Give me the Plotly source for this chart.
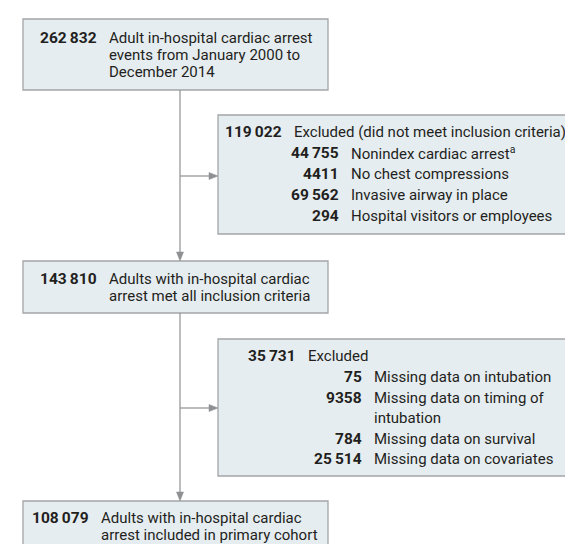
import plotly.graph_objects as go

# ---- data ----
main_counts = [262832, 143810, 108079]
main_labels = [
    ["Adult in-hospital cardiac arrest", "events from January 2000 to", "December 2014"],
    ["Adults with in-hospital cardiac", "arrest met all inclusion criteria"],
    ["Adults with in-hospital cardiac", "arrest included in primary cohort"],
]
excl1_total = 119022
excl1_title = "Excluded (did not meet inclusion criteria)"
excl1_counts = [44755, 4411, 69562, 294]
excl1_labels = [["Nonindex cardiac arrest<sup>a</sup>"], ["No chest compressions"],
                ["Invasive airway in place"], ["Hospital visitors or employees"]]
excl2_total = 35731
excl2_title = "Excluded"
excl2_counts = [75, 9358, 784, 25514]
excl2_labels = [["Missing data on intubation"], ["Missing data on timing of", "intubation"],
                ["Missing data on survival"], ["Missing data on covariates"]]


def fmt(n):
    s = f"{n:,}"
    if n >= 10000:
        return s.replace(",", "\u2009")
    return s.replace(",", "")


W, H = 573, 544
FILL = "#e6edf1"
BORDER = "#a3a5a7"
LINE = "#8e9092"
TXT = "#231f20"
FONT = "Roboto, 'Liberation Sans', sans-serif"
FS_NUM = 15.5
FS_TXT = 15

fig = go.Figure()
shapes = []
ann = []


def box(x0, x1, y0, y1):
    shapes.append(dict(type="rect", xref="x", yref="y", x0=x0, x1=x1, y0=y0, y1=y1,
                       fillcolor=FILL, line=dict(color=BORDER, width=1.3), layer="below"))


def num(x, y, n):
    ann.append(dict(x=x, y=y, xref="x", yref="y", text=f"<b>{fmt(n)}</b>", showarrow=False,
                    xanchor="right", yanchor="middle", font=dict(family=FONT, size=FS_NUM, color=TXT)))


def txt(x, y, t):
    ann.append(dict(x=x, y=y, xref="x", yref="y", text=t, showarrow=False,
                    xanchor="left", yanchor="middle", font=dict(family=FONT, size=FS_TXT, color=TXT)))


def line(x0, y0, x1, y1):
    shapes.append(dict(type="line", xref="x", yref="y", x0=x0, y0=y0, x1=x1, y1=y1,
                       line=dict(color=LINE, width=1.2)))


def head_down(x, y):
    shapes.append(dict(type="path", xref="x", yref="y",
                       path=f"M{x-3.5},{y-9} L{x+3.5},{y-9} L{x},{y} Z",
                       fillcolor=LINE, line=dict(color=LINE, width=0.5)))


def head_right(x, y):
    shapes.append(dict(type="path", xref="x", yref="y",
                       path=f"M{x-9},{y-3.5} L{x-9},{y+3.5} L{x},{y} Z",
                       fillcolor=LINE, line=dict(color=LINE, width=0.5)))


TRUNK = 172
# main boxes
main_boxes = [(15, 320, 11, 82), (15, 320, 253, 305), (15, 320, 493, 560)]
main_numx = [91, 91, 83]
main_rows = [[30, 47, 64], [271, 288], [510, 527]]
for (x0, x1, y0, y1), nx, rows, n, lab in zip(main_boxes, main_numx, main_rows, main_counts, main_labels):
    box(x0, x1, y0, y1)
    num(nx, rows[0], n)
    for r, t in zip(rows, lab):
        txt(nx + 8, r, t)

# exclusion box 1
box(210, 580, 107, 226)
num(276, 124, excl1_total)
txt(284, 124, excl1_title)
rows1 = [145, 166, 187, 208]
for r, n, lab in zip(rows1, excl1_counts, excl1_labels):
    num(333, r, n)
    txt(341, r, lab[0])

# exclusion box 2
box(210, 580, 331, 468)
num(290, 348, excl2_total)
txt(298, 348, excl2_title)
rows2 = [[369], [389.5, 410], [430.5], [451]]
for rr, n, lab in zip(rows2, excl2_counts, excl2_labels):
    num(356, rr[0], n)
    for r, t in zip(rr, lab):
        txt(364, r, t)

# connectors
line(TRUNK, 82, TRUNK, 246)
head_down(TRUNK, 253)
line(TRUNK, 168, 203, 168)
head_right(210, 168)
line(TRUNK, 305, TRUNK, 486)
head_down(TRUNK, 493)
line(TRUNK, 400, 203, 400)
head_right(210, 400)

fig.update_layout(
    width=W, height=H, margin=dict(l=0, r=0, t=0, b=0),
    paper_bgcolor="white", plot_bgcolor="white",
    xaxis=dict(range=[0, W], visible=False, fixedrange=True),
    yaxis=dict(range=[H, 0], visible=False, fixedrange=True),
    shapes=shapes, annotations=ann, showlegend=False,
)
fig.write_html("out.html", config={"displayModeBar": False})
